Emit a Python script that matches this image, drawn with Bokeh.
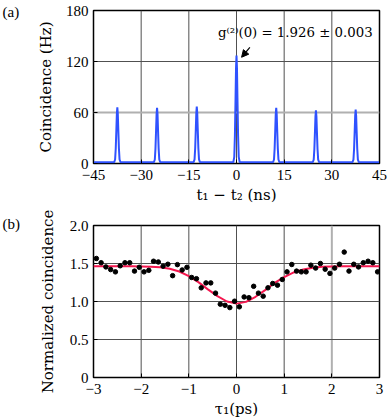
from bokeh.plotting import figure
from bokeh.models import Range1d, FixedTicker, Span, Label, Arrow, NormalHead
from bokeh.layouts import column
from bokeh.embed import file_html
from bokeh.resources import INLINE

# ---------------- Panel (a): coincidence histogram ----------------
trace_t = [-45.0,
           -38.5, -38.2, -38.0, -37.8, -37.65, -37.5, -37.35, -37.2, -37.0, -36.8, -36.5,
           -26.0, -25.7, -25.5, -25.3, -25.15, -25.0, -24.85, -24.7, -24.5, -24.3, -24.0,
           -13.5, -13.2, -13.0, -12.8, -12.65, -12.5, -12.35, -12.2, -12.0, -11.8, -11.5,
           -1.0, -0.7, -0.5, -0.3, -0.15, 0.0, 0.15, 0.3, 0.5, 0.7, 1.0,
           11.5, 11.8, 12.0, 12.2, 12.35, 12.5, 12.65, 12.8, 13.0, 13.2, 13.5,
           24.0, 24.3, 24.5, 24.7, 24.85, 25.0, 25.15, 25.3, 25.5, 25.7, 26.0,
           36.5, 36.8, 37.0, 37.2, 37.35, 37.5, 37.65, 37.8, 38.0, 38.2, 38.5,
           45.0]
trace_hz = [1.5,
            1.5, 4.7, 17.6, 40.2, 58.3, 66.0, 58.3, 40.2, 17.6, 4.7, 1.5,
            1.5, 4.7, 17.5, 39.9, 57.8, 65.5, 57.8, 39.9, 17.5, 4.7, 1.5,
            1.5, 4.8, 17.9, 40.8, 59.1, 67.0, 59.1, 40.8, 17.9, 4.8, 1.5,
            1.5, 7.8, 32.9, 76.8, 112.0, 127.0, 112.0, 76.8, 32.9, 7.8, 1.5,
            1.5, 4.7, 17.5, 39.9, 57.8, 65.5, 57.8, 39.9, 17.5, 4.7, 1.5,
            1.5, 4.6, 16.8, 38.1, 55.2, 62.5, 55.2, 38.1, 16.8, 4.6, 1.5,
            1.5, 4.6, 17.0, 38.7, 56.1, 63.5, 56.1, 38.7, 17.0, 4.6, 1.5,
            1.5]
a_xticks = [-45, -30, -15, 0, 15, 30, 45]
a_xtick_labels = ["−45", "−30", "−15", "0", "15", "30", "45"]
a_yticks = [0, 60, 120, 180]
a_ytick_labels = ["0", "60", "120", "180"]
a_annotation = "g⁽²⁾(0) = 1.926 ± 0.003"

# ---------------- Panel (b): normalized coincidence ----------------
tau_ps = [-2.94, -2.84, -2.74, -2.64, -2.54, -2.44, -2.34, -2.24, -2.14, -2.04,
          -1.94, -1.84, -1.74, -1.64, -1.54, -1.44, -1.34, -1.24, -1.14, -1.04,
          -0.94, -0.84, -0.74, -0.64, -0.54, -0.44, -0.34, -0.24, -0.14, -0.04,
          0.06, 0.16, 0.26, 0.36, 0.46, 0.56, 0.66, 0.76, 0.86, 0.96,
          1.06, 1.16, 1.26, 1.36, 1.46, 1.56, 1.66, 1.76, 1.86, 1.96,
          2.06, 2.16, 2.26, 2.36, 2.46, 2.56, 2.66, 2.76, 2.86, 2.96]
norm_coinc = [1.566, 1.51, 1.455, 1.42, 1.39, 1.47, 1.51, 1.51, 1.40, 1.45,
              1.39, 1.41, 1.53, 1.52, 1.465, 1.49, 1.34, 1.485, 1.415, 1.45,
              1.316, 1.30, 1.18, 1.245, 1.245, 1.11, 0.965, 0.95, 0.92, 1.004,
              0.93, 1.06, 1.05, 1.20, 1.11, 1.07, 1.18, 1.237, 1.215, 1.29,
              1.39, 1.487, 1.40, 1.39, 1.39, 1.478, 1.44, 1.50, 1.425, 1.37,
              1.44, 1.49, 1.65, 1.40, 1.49, 1.455, 1.51, 1.53, 1.51, 1.39]
fit_tau = [-3.0, -2.8, -2.6, -2.4, -2.2, -2.0, -1.8, -1.6, -1.4, -1.2, -1.0,
           -0.8, -0.6, -0.4, -0.2, 0.0, 0.2, 0.4, 0.6, 0.8, 1.0,
           1.2, 1.4, 1.6, 1.8, 2.0, 2.2, 2.4, 2.6, 2.8, 3.0]
fit_val = [1.465, 1.465, 1.465, 1.465, 1.464, 1.462, 1.458, 1.450, 1.432, 1.395, 1.335,
           1.255, 1.160, 1.070, 1.000, 0.972, 0.995, 1.062, 1.150, 1.245, 1.322,
           1.382, 1.422, 1.445, 1.456, 1.461, 1.464, 1.465, 1.465, 1.465, 1.465]
b_xticks = [-3, -2, -1, 0, 1, 2, 3]
b_xtick_labels = ["−3", "−2", "−1", "0", "1", "2", "3"]
b_yticks = [0, 0.5, 1.0, 1.5, 2.0]
b_ytick_labels = ["0", "0.5", "1.0", "1.5", "2.0"]

TICK_FONT = "'Liberation Serif'"
TITLE_FONT = "'DejaVu Serif'"
DARK = "#505050"
LIGHT = "#b0b0b0"


def style(p, xticks, xlabels, yticks, ylabels, xlabel, ylabel, ylabel_standoff):
    p.xgrid.visible = False
    p.ygrid.visible = False
    p.outline_line_color = "black"
    p.outline_line_width = 1.5
    p.background_fill_color = "white"
    p.border_fill_color = "white"
    p.xaxis.ticker = FixedTicker(ticks=xticks)
    p.yaxis.ticker = FixedTicker(ticks=yticks)
    p.xaxis.major_label_overrides = {t: l for t, l in zip(xticks, xlabels)}
    p.yaxis.major_label_overrides = {t: l for t, l in zip(yticks, ylabels)}
    for ax in (p.xaxis[0], p.yaxis[0]):
        ax.axis_line_color = None
        ax.major_tick_in = 4
        ax.major_tick_out = 0
        ax.major_tick_line_color = "black"
        ax.major_tick_line_width = 1
        ax.minor_tick_line_color = None
        ax.major_label_text_font = TICK_FONT
        ax.major_label_text_font_size = "15px"
        ax.major_label_text_color = "black"
        ax.axis_label_text_font = TITLE_FONT
        ax.axis_label_text_font_size = "15px"
        ax.axis_label_text_font_style = "normal"
        ax.axis_label_text_color = "black"
    p.xaxis.axis_label = xlabel
    p.yaxis.axis_label = ylabel
    p.xaxis.major_label_standoff = 6
    p.xaxis.axis_label_standoff = 3
    p.yaxis.major_label_standoff = 5
    p.yaxis.axis_label_standoff = ylabel_standoff


def panel_tag(p, text, standoff):
    p.title.text = text
    p.title.align = "left"
    p.title.offset = -91
    p.title.standoff = standoff
    p.title.text_font = TICK_FONT
    p.title.text_font_size = "15px"
    p.title.text_font_style = "normal"
    p.title.text_color = "black"


def grid(p, xs, ys, light_x=(), light_y=()):
    for x in xs:
        lt = x in light_x
        p.add_layout(Span(location=x, dimension="height", level="underlay",
                          line_color=LIGHT if lt else DARK, line_width=2 if lt else 1))
    for y in ys:
        lt = y in light_y
        p.add_layout(Span(location=y, dimension="width", level="underlay",
                          line_color=LIGHT if lt else DARK, line_width=2 if lt else 1))


# ---- figure (a)
pa = figure(width=387, height=207, x_range=Range1d(-45, 45), y_range=Range1d(0, 180),
            output_backend="svg", toolbar_location=None,
            min_border_left=93, min_border_right=7, min_border_top=10, min_border_bottom=44)
style(pa, a_xticks, a_xtick_labels, a_yticks, a_ytick_labels,
      "t₁ − t₂ (ns)", "Coincidence (Hz)", 8)
panel_tag(pa, "(a)", -18)
grid(pa, a_xticks[1:-1], a_yticks[1:-1], light_y=(60,))
pa.line(trace_t, trace_hz, line_color="#2f52ff", line_width=2)
pa.add_layout(Label(x=-5.8, y=154, text=a_annotation, text_font=TITLE_FONT,
                    text_font_size="13.3px", text_align="left", text_baseline="middle",
                    text_color="black"))
pa.add_layout(Arrow(x_start=4.2, y_start=136.5, x_end=1.6, y_end=125, line_width=1.2,
                    line_color="black",
                    end=NormalHead(size=7, fill_color="black", line_color="black")))

# ---- figure (b)
pb = figure(width=387, height=213, x_range=Range1d(-3, 3), y_range=Range1d(0, 2),
            output_backend="svg", toolbar_location=None,
            min_border_left=93, min_border_right=8, min_border_top=18, min_border_bottom=43)
style(pb, b_xticks, b_xtick_labels, b_yticks, b_ytick_labels,
      "τ₁(ps)", "Normalized coincidence", 10)
panel_tag(pb, "(b)", -12)
grid(pb, b_xticks[1:-1], b_yticks[1:-1], light_x=(2,))
pb.line(fit_tau, fit_val, line_color="#f5174f", line_width=2)
pb.scatter(tau_ps, norm_coinc, marker="circle", size=4.5, fill_color="black", line_color="black")

layout = column(pa, pb, spacing=0)
open("out.html", "w").write(file_html(layout, INLINE))
